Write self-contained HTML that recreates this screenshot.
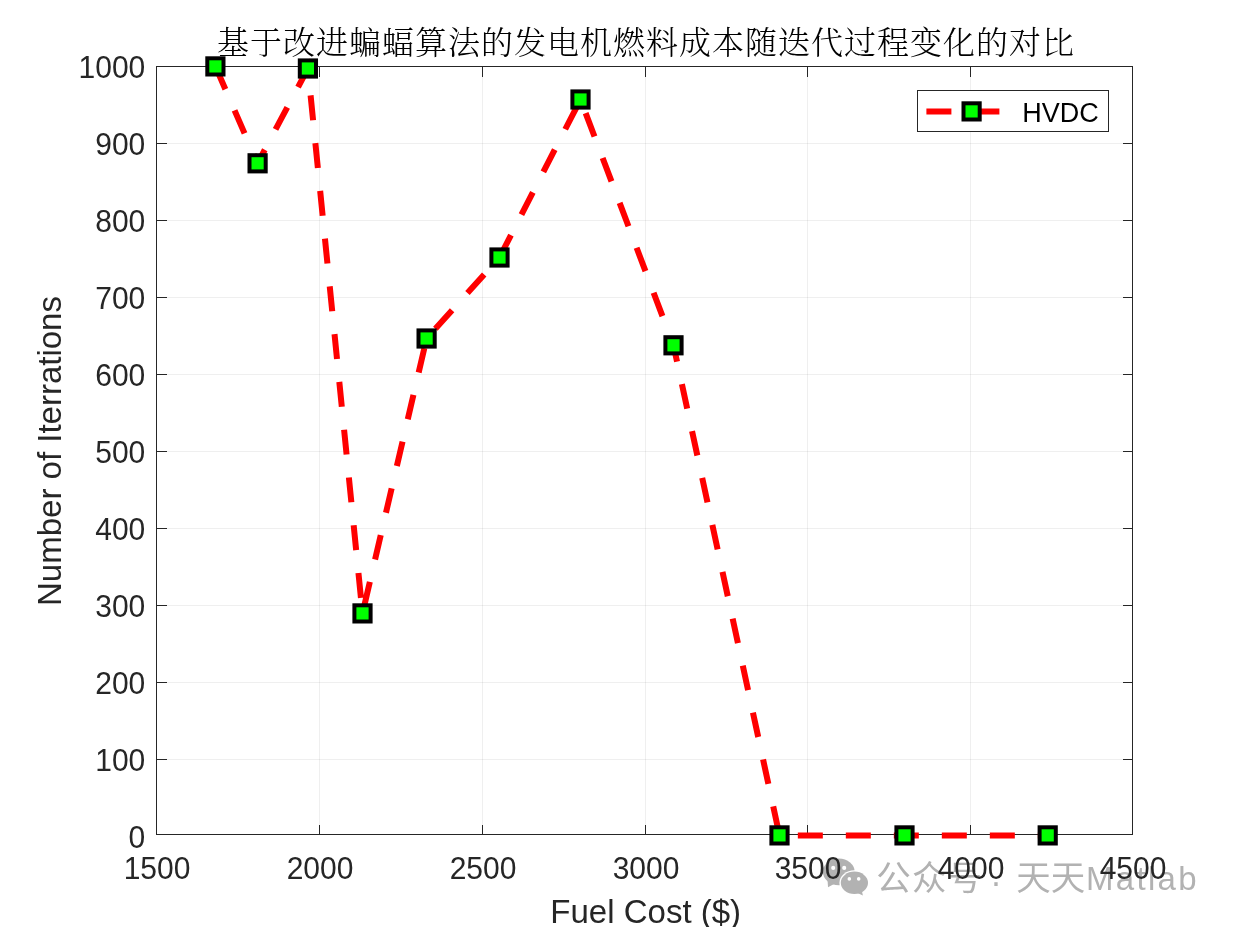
<!DOCTYPE html>
<html lang="zh"><head><meta charset="utf-8"><title>HVDC</title>
<style>
html,body{margin:0;padding:0;background:#fff;}
body{width:1234px;height:927px;overflow:hidden;}
svg{display:block;position:absolute;left:0;top:0;}
text{font-family:"Liberation Sans","Noto Sans CJK SC",sans-serif;fill:#262626;}
.tk{font-size:32px;}
.lb{font-size:33px;}
.ttl{font-family:"Liberation Serif","Noto Serif CJK SC",serif;font-size:32px;letter-spacing:1px;font-weight:300;fill:#000;}
.lg{font-size:27px;fill:#000;}
.wm text{font-size:34.5px;fill:#b2b2b2;}
</style></head><body>
<svg width="1234" height="927" viewBox="0 0 1234 927">
<rect x="0" y="0" width="1234" height="927" fill="#fff"/>

<g fill="#b2b2b2">
<ellipse cx="838.8" cy="871.85" rx="15.9" ry="13.35"/>
<path d="M827.6 881 L828 887.3 L835 883.6 Z"/>
</g>
<ellipse cx="854.4" cy="882.8" rx="15" ry="12.6" fill="#fff"/>
<g fill="#b2b2b2">
<ellipse cx="854.4" cy="882.8" rx="13.6" ry="11.2"/>
<path d="M857.5 893 L862.9 895.4 L861.8 890.5 Z"/>
</g>
<g fill="#fff"><circle cx="833.2" cy="867.9" r="2.05"/><circle cx="844.2" cy="867.9" r="2.05"/><circle cx="849.3" cy="878.9" r="1.8"/><circle cx="858.7" cy="878.9" r="1.8"/></g>
<g class="wm">
<text x="876.3" y="890" style="letter-spacing:1.1px">公众号</text>
<text x="996" y="893.5" text-anchor="middle">·</text>
<text x="1016.2" y="890" style="letter-spacing:0px">天天</text>
<text x="1086" y="890" style="font-size:33px;letter-spacing:2.3px">Matlab</text>
</g>

<g stroke="#262626" stroke-opacity="0.075" stroke-width="1" shape-rendering="crispEdges">
<line x1="319.5" y1="66.5" x2="319.5" y2="834.5"/>
<line x1="482.5" y1="66.5" x2="482.5" y2="834.5"/>
<line x1="645.5" y1="66.5" x2="645.5" y2="834.5"/>
<line x1="807.5" y1="66.5" x2="807.5" y2="834.5"/>
<line x1="970.5" y1="66.5" x2="970.5" y2="834.5"/>
<line x1="156.5" y1="759.5" x2="1132.5" y2="759.5"/>
<line x1="156.5" y1="682.5" x2="1132.5" y2="682.5"/>
<line x1="156.5" y1="605.5" x2="1132.5" y2="605.5"/>
<line x1="156.5" y1="528.5" x2="1132.5" y2="528.5"/>
<line x1="156.5" y1="451.5" x2="1132.5" y2="451.5"/>
<line x1="156.5" y1="374.5" x2="1132.5" y2="374.5"/>
<line x1="156.5" y1="297.5" x2="1132.5" y2="297.5"/>
<line x1="156.5" y1="220.5" x2="1132.5" y2="220.5"/>
<line x1="156.5" y1="143.5" x2="1132.5" y2="143.5"/>
</g>
<g stroke="#262626" stroke-width="1" fill="none" shape-rendering="crispEdges">
<rect x="156.5" y="66.5" width="976.0" height="768.0"/>
<line x1="319.5" y1="834.5" x2="319.5" y2="824.5"/><line x1="319.5" y1="66.5" x2="319.5" y2="76.5"/>
<line x1="482.5" y1="834.5" x2="482.5" y2="824.5"/><line x1="482.5" y1="66.5" x2="482.5" y2="76.5"/>
<line x1="645.5" y1="834.5" x2="645.5" y2="824.5"/><line x1="645.5" y1="66.5" x2="645.5" y2="76.5"/>
<line x1="807.5" y1="834.5" x2="807.5" y2="824.5"/><line x1="807.5" y1="66.5" x2="807.5" y2="76.5"/>
<line x1="970.5" y1="834.5" x2="970.5" y2="824.5"/><line x1="970.5" y1="66.5" x2="970.5" y2="76.5"/>
<line x1="156.5" y1="759.5" x2="166.5" y2="759.5"/><line x1="1132.5" y1="759.5" x2="1122.5" y2="759.5"/>
<line x1="156.5" y1="682.5" x2="166.5" y2="682.5"/><line x1="1132.5" y1="682.5" x2="1122.5" y2="682.5"/>
<line x1="156.5" y1="605.5" x2="166.5" y2="605.5"/><line x1="1132.5" y1="605.5" x2="1122.5" y2="605.5"/>
<line x1="156.5" y1="528.5" x2="166.5" y2="528.5"/><line x1="1132.5" y1="528.5" x2="1122.5" y2="528.5"/>
<line x1="156.5" y1="451.5" x2="166.5" y2="451.5"/><line x1="1132.5" y1="451.5" x2="1122.5" y2="451.5"/>
<line x1="156.5" y1="374.5" x2="166.5" y2="374.5"/><line x1="1132.5" y1="374.5" x2="1122.5" y2="374.5"/>
<line x1="156.5" y1="297.5" x2="166.5" y2="297.5"/><line x1="1132.5" y1="297.5" x2="1122.5" y2="297.5"/>
<line x1="156.5" y1="220.5" x2="166.5" y2="220.5"/><line x1="1132.5" y1="220.5" x2="1122.5" y2="220.5"/>
<line x1="156.5" y1="143.5" x2="166.5" y2="143.5"/><line x1="1132.5" y1="143.5" x2="1122.5" y2="143.5"/>
</g>
<g class="tk">
<text x="123.64" y="878.9" textLength="66.72" lengthAdjust="spacingAndGlyphs">1500</text>
<text x="286.64" y="878.9" textLength="66.72" lengthAdjust="spacingAndGlyphs">2000</text>
<text x="449.64" y="878.9" textLength="66.72" lengthAdjust="spacingAndGlyphs">2500</text>
<text x="612.64" y="878.9" textLength="66.72" lengthAdjust="spacingAndGlyphs">3000</text>
<text x="774.64" y="878.9" textLength="66.72" lengthAdjust="spacingAndGlyphs">3500</text>
<text x="937.64" y="878.9" textLength="66.72" lengthAdjust="spacingAndGlyphs">4000</text>
<text x="1099.64" y="878.9" textLength="66.72" lengthAdjust="spacingAndGlyphs">4500</text>
<text x="128.62" y="848.40" textLength="16.68" lengthAdjust="spacingAndGlyphs">0</text>
<text x="95.26" y="771.40" textLength="50.04" lengthAdjust="spacingAndGlyphs">100</text>
<text x="95.26" y="694.40" textLength="50.04" lengthAdjust="spacingAndGlyphs">200</text>
<text x="95.26" y="617.40" textLength="50.04" lengthAdjust="spacingAndGlyphs">300</text>
<text x="95.26" y="540.40" textLength="50.04" lengthAdjust="spacingAndGlyphs">400</text>
<text x="95.26" y="463.40" textLength="50.04" lengthAdjust="spacingAndGlyphs">500</text>
<text x="95.26" y="386.40" textLength="50.04" lengthAdjust="spacingAndGlyphs">600</text>
<text x="95.26" y="309.40" textLength="50.04" lengthAdjust="spacingAndGlyphs">700</text>
<text x="95.26" y="232.40" textLength="50.04" lengthAdjust="spacingAndGlyphs">800</text>
<text x="95.26" y="155.40" textLength="50.04" lengthAdjust="spacingAndGlyphs">900</text>
<text x="78.58" y="78.40" textLength="66.72" lengthAdjust="spacingAndGlyphs">1000</text>
</g>
<text class="lb" x="645.7" y="923" text-anchor="middle">Fuel Cost ($)</text>
<text class="lb" transform="translate(61,451) rotate(-90)" text-anchor="middle">Number of Iterrations</text>
<text class="ttl" x="646" y="54.3" text-anchor="middle">基于改进蝙蝠算法的发电机燃料成本随迭代过程变化的对比</text>
<polyline points="215.4,66.4 257.6,163.3 307.9,68.5 362.5,613.4 426.6,338.5 499.5,257.5 580.5,99.5 673.5,345.3 779.5,835.4 904.5,835.4 1047.7,835.4" fill="none" stroke="#ff0000" stroke-width="6" stroke-dasharray="25 23" stroke-linejoin="miter"/>
<rect x="207.30" y="58.30" width="16.2" height="16.2" fill="#00ff00" stroke="#000" stroke-width="4"/>
<rect x="249.50" y="155.20" width="16.2" height="16.2" fill="#00ff00" stroke="#000" stroke-width="4"/>
<rect x="299.80" y="60.40" width="16.2" height="16.2" fill="#00ff00" stroke="#000" stroke-width="4"/>
<rect x="354.40" y="605.30" width="16.2" height="16.2" fill="#00ff00" stroke="#000" stroke-width="4"/>
<rect x="418.50" y="330.40" width="16.2" height="16.2" fill="#00ff00" stroke="#000" stroke-width="4"/>
<rect x="491.40" y="249.40" width="16.2" height="16.2" fill="#00ff00" stroke="#000" stroke-width="4"/>
<rect x="572.40" y="91.40" width="16.2" height="16.2" fill="#00ff00" stroke="#000" stroke-width="4"/>
<rect x="665.40" y="337.20" width="16.2" height="16.2" fill="#00ff00" stroke="#000" stroke-width="4"/>
<rect x="771.40" y="827.30" width="16.2" height="16.2" fill="#00ff00" stroke="#000" stroke-width="4"/>
<rect x="896.40" y="827.30" width="16.2" height="16.2" fill="#00ff00" stroke="#000" stroke-width="4"/>
<rect x="1039.60" y="827.30" width="16.2" height="16.2" fill="#00ff00" stroke="#000" stroke-width="4"/>
<rect x="917.5" y="90.5" width="191" height="41" fill="#fff" stroke="#262626" stroke-width="1" shape-rendering="crispEdges"/>
<line x1="926.4" y1="111.4" x2="1016.6" y2="111.4" stroke="#ff0000" stroke-width="6" stroke-dasharray="25 23"/>
<rect x="963.5" y="103.3" width="16.2" height="16.2" fill="#00ff00" stroke="#000" stroke-width="4"/>
<text class="lg" x="1022.3" y="121.7">HVDC</text>
</svg></body></html>
